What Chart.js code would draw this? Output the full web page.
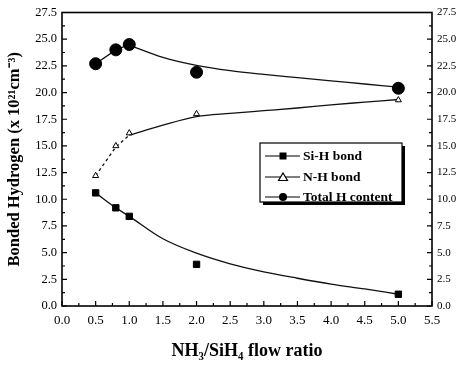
<!DOCTYPE html>
<html>
<head>
<meta charset="utf-8">
<script src="https://cdn.jsdelivr.net/npm/chart.js@4.4.1/dist/chart.umd.min.js"></script>
<style>
html,body{margin:0;padding:0;background:#fff;}
canvas{display:block;}
</style>
</head>
<body>
<canvas id="c" width="463" height="368"></canvas>
<script>
// ---- data ----
const flowRatio = [0.5, 0.8, 1.0, 2.0, 5.0];
const siH = [10.6, 9.2, 8.4, 3.9, 1.1];
const nH = [12.2, 15.0, 16.2, 18.0, 19.3];
const totalH = [22.7, 24.0, 24.5, 21.9, 20.4];

// fitted curves
const siHFitX = [0.5, 0.8, 1.0, 1.5, 2.0, 2.5, 3.0, 3.5, 4.0, 4.5, 5.0];
const siHFit = [10.6, 9.2, 8.4, 6.3, 4.95, 3.95, 3.2, 2.6, 2.05, 1.6, 1.1];
const nHDashX = [0.5, 0.8, 1.0];
const nHDash = [12.2, 14.9, 16.0];
const nHFitX = [1.0, 1.5, 2.0, 2.5, 3.0, 3.5, 4.0, 4.5, 5.0];
const nHFit = [16.0, 16.95, 17.75, 18.05, 18.3, 18.55, 18.85, 19.1, 19.35];
const totalSegX = [0.5, 0.8, 1.0];
const totalSeg = [22.7, 24.0, 24.5];
const totalFitX = [1.0, 1.5, 2.0, 2.5, 3.0, 3.5, 4.0, 4.5, 5.0];
const totalFit = [24.45, 23.3, 22.55, 22.05, 21.7, 21.4, 21.1, 20.8, 20.5];

const xTickValues = [0, 0.5, 1, 1.5, 2, 2.5, 3, 3.5, 4, 4.5, 5, 5.5];
const yTickValues = [0, 2.5, 5, 7.5, 10, 12.5, 15, 17.5, 20, 22.5, 25, 27.5];
const legendLabels = ['Si-H bond', 'N-H bond', 'Total H content'];
const xTitle = 'NH\u2083/SiH\u2084 flow ratio';
const yTitle = 'Bonded Hydrogen (x 10\u00B2\u00B9cm\u207B\u00B3)';

const pts = (xs, ys) => xs.map((x, i) => ({x: x, y: ys[i]}));
const SERIF = "'Liberation Serif','Times New Roman',serif";

const lineDs = (xs, ys, opt) => Object.assign({
  data: pts(xs, ys), borderColor: '#111', borderWidth: 1.3, pointRadius: 0,
  fill: false, order: 2, cubicInterpolationMode: 'monotone'
}, opt || {});
const markDs = (xs, ys, opt) => Object.assign({
  data: pts(xs, ys), showLine: false, borderColor: '#000', backgroundColor: '#000',
  pointBorderColor: '#000', pointBackgroundColor: '#000', order: 0
}, opt || {});

const frameTicks = {
  id: 'frameTicks',
  afterDatasetsDraw(chart) {
    const ctx = chart.ctx, a = chart.chartArea;
    const sx = chart.scales.x, sy = chart.scales.y;
    ctx.save();
    ctx.strokeStyle = '#000';
    ctx.lineWidth = 1.6;
    ctx.strokeRect(a.left, a.top, a.right - a.left, a.bottom - a.top);
    ctx.lineWidth = 1.2;
    ctx.beginPath();
    xTickValues.forEach((v, i) => {
      const px = sx.getPixelForValue(v);
      ctx.moveTo(px, a.bottom); ctx.lineTo(px, a.bottom - 5);
      if (i < xTickValues.length - 1) {
        const pm = sx.getPixelForValue(v + 0.25);
        ctx.moveTo(pm, a.bottom); ctx.lineTo(pm, a.bottom - 3);
      }
    });
    yTickValues.forEach((v, i) => {
      const py = sy.getPixelForValue(v);
      ctx.moveTo(a.left, py); ctx.lineTo(a.left + 5, py);
      ctx.moveTo(a.right, py); ctx.lineTo(a.right - 5, py);
      if (i < yTickValues.length - 1) {
        const pm = sy.getPixelForValue(v + 1.25);
        ctx.moveTo(a.left, pm); ctx.lineTo(a.left + 3, pm);
        ctx.moveTo(a.right, pm); ctx.lineTo(a.right - 3, pm);
      }
    });
    ctx.stroke();
    ctx.restore();
  }
};

const legendBox = {
  id: 'legendBox',
  afterDraw(chart) {
    const ctx = chart.ctx;
    const x0 = 260, y0 = 143, w = 142, h = 59;
    ctx.save();
    ctx.fillStyle = '#000';
    ctx.fillRect(x0 + 3, y0 + 3, w, h);
    ctx.fillStyle = '#fff';
    ctx.fillRect(x0, y0, w, h);
    ctx.strokeStyle = '#000';
    ctx.lineWidth = 1.2;
    ctx.strokeRect(x0, y0, w, h);
    const rows = [156, 177, 197];
    ctx.font = 'bold 13.5px ' + SERIF;
    ctx.textBaseline = 'middle';
    rows.forEach((ry, i) => {
      ctx.strokeStyle = '#000';
      ctx.lineWidth = 1.2;
      ctx.beginPath(); ctx.moveTo(265, ry); ctx.lineTo(300, ry); ctx.stroke();
      const cx = 283;
      if (i === 0) {
        ctx.fillStyle = '#000';
        ctx.fillRect(cx - 3.5, ry - 3.5, 7, 7);
      } else if (i === 1) {
        ctx.fillStyle = '#fff';
        ctx.beginPath();
        ctx.moveTo(cx, ry - 4); ctx.lineTo(cx + 4.5, ry + 3.5); ctx.lineTo(cx - 4.5, ry + 3.5); ctx.closePath();
        ctx.fill(); ctx.stroke();
      } else {
        ctx.fillStyle = '#000';
        ctx.beginPath(); ctx.arc(cx, ry, 4, 0, Math.PI * 2); ctx.fill();
      }
      ctx.fillStyle = '#000';
      ctx.fillText(legendLabels[i], 303, ry + 1);
    });
    ctx.restore();
  }
};

new Chart(document.getElementById('c'), {
  type: 'line',
  data: {
    datasets: [
      lineDs(siHFitX, siHFit),
      lineDs(nHDashX, nHDash, {borderDash: [3, 3], cubicInterpolationMode: 'default', tension: 0}),
      lineDs(nHFitX, nHFit),
      lineDs(totalSegX, totalSeg, {cubicInterpolationMode: 'default', tension: 0}),
      lineDs(totalFitX, totalFit),
      markDs(flowRatio, siH, {pointStyle: 'rect', pointRadius: 4.5}),
      markDs(flowRatio, nH, {pointStyle: 'triangle', pointRadius: 3.5, pointBackgroundColor: '#fff', pointBorderWidth: 1}),
      markDs(flowRatio, totalH, {pointStyle: 'circle', pointRadius: 6})
    ]
  },
  options: {
    responsive: false,
    animation: false,
    layout: {padding: {top: 12, left: 0, right: 0, bottom: 0}},
    plugins: {legend: {display: false}, tooltip: {enabled: false}},
    scales: {
      x: {
        type: 'linear', min: 0, max: 5.5,
        afterBuildTicks: s => { s.ticks = xTickValues.map(v => ({value: v})); },
        afterFit: s => { s.height = 62; },
        grid: {display: false, drawTicks: false},
        border: {display: false},
        ticks: {padding: 7, color: '#000', font: {family: SERIF, size: 13}, callback: v => v.toFixed(1), maxRotation: 0, autoSkip: false},
        title: {display: true, text: xTitle, color: '#000', font: {family: SERIF, size: 18, weight: 'bold'}, padding: {top: 4, bottom: 6}}
      },
      y: {
        type: 'linear', position: 'left', min: 0, max: 27.5,
        afterBuildTicks: s => { s.ticks = yTickValues.map(v => ({value: v})); },
        afterFit: s => { s.width = 62; },
        grid: {display: false, drawTicks: false},
        border: {display: false},
        ticks: {padding: 5, color: '#000', font: {family: SERIF, size: 12.5}, callback: v => v.toFixed(1), autoSkip: false},
        title: {display: true, text: yTitle, color: '#000', font: {family: SERIF, size: 16.5, weight: 'bold'}, padding: {top: 5, bottom: 0}}
      },
      y2: {
        type: 'linear', position: 'right', min: 0, max: 27.5,
        afterBuildTicks: s => { s.ticks = yTickValues.map(v => ({value: v})); },
        afterFit: s => { s.width = 31; },
        grid: {display: false, drawTicks: false},
        border: {display: false},
        ticks: {padding: 5, color: '#000', font: {family: SERIF, size: 11}, callback: v => v.toFixed(1), autoSkip: false}
      }
    }
  },
  plugins: [frameTicks, legendBox]
});
</script>
</body>
</html>
